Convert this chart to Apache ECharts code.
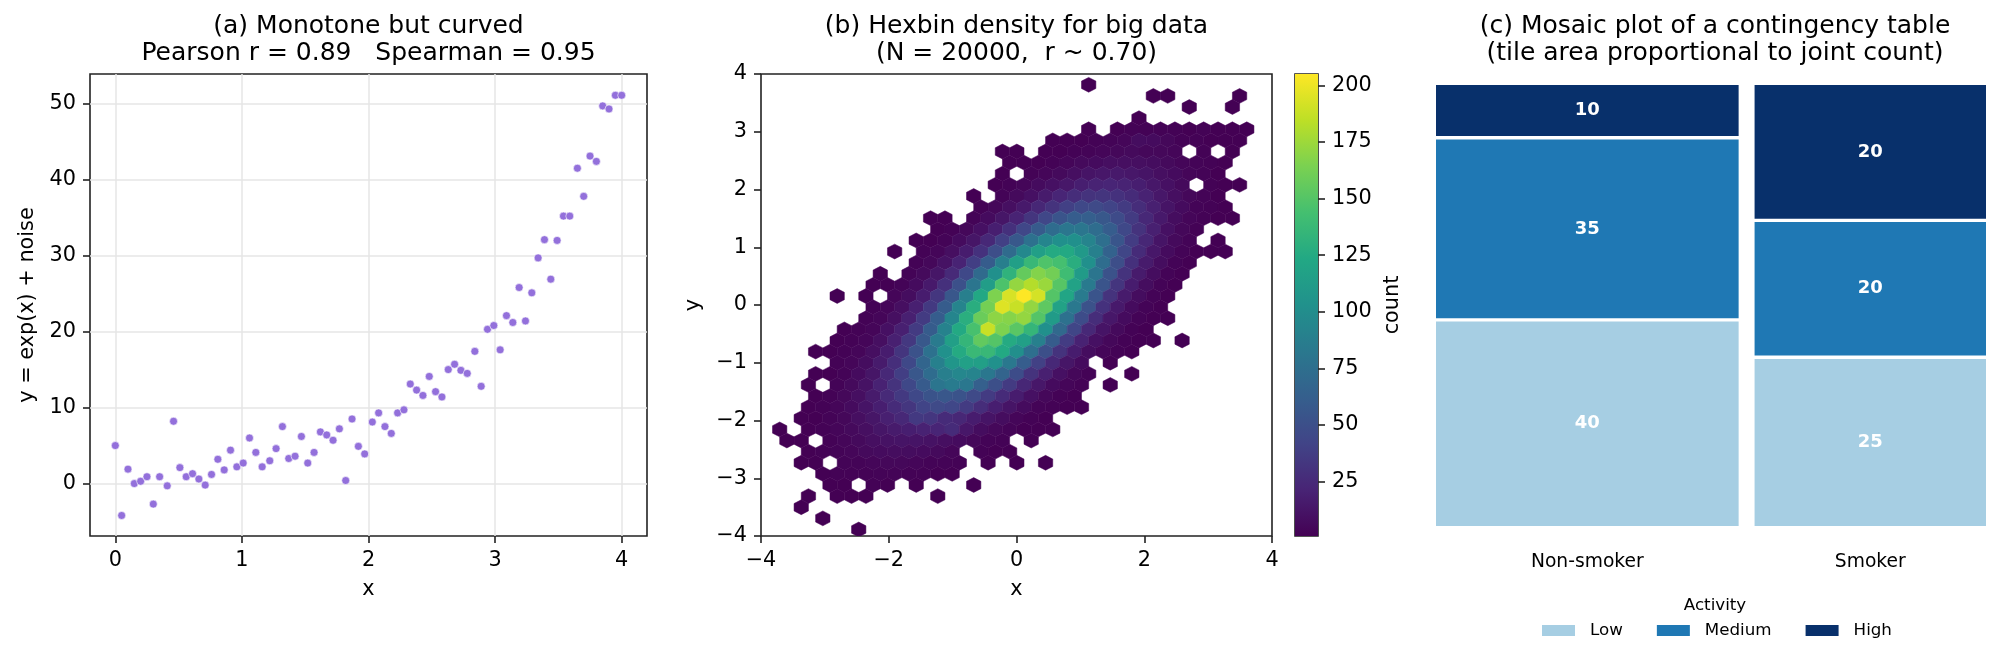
<!DOCTYPE html>
<html>
<head>
<meta charset="utf-8">
<script src="https://cdn.jsdelivr.net/npm/echarts@6/dist/echarts.min.js"></script>
<style>
  html, body { margin: 0; padding: 0; background: #fff; }
  #chart { width: 2005px; height: 663px; }
</style>
</head>
<body>
<div id="chart"></div>
<script>
// (a) monotone but curved
var curveX = [0.00,0.05,0.10,0.15,0.20,0.25,0.30,0.35,0.41,0.46,0.51,0.56,0.61,0.66,0.71,0.76,0.81,0.86,0.91,0.96,
  1.01,1.06,1.11,1.16,1.22,1.27,1.32,1.37,1.42,1.47,1.52,1.57,1.62,1.67,1.72,1.77,1.82,1.87,1.92,1.97,
  2.03,2.08,2.13,2.18,2.23,2.28,2.33,2.38,2.43,2.48,2.53,2.58,2.63,2.68,2.73,2.78,2.84,2.89,2.94,2.99,
  3.04,3.09,3.14,3.19,3.24,3.29,3.34,3.39,3.44,3.49,3.54,3.59,3.65,3.70,3.75,3.80,3.85,3.90,3.95,4.00];
var curveY = [5.0,-4.2,1.9,0.0,0.3,0.9,-2.7,0.9,-0.3,8.2, 2.1,0.9,1.3,0.6,-0.2,1.2,3.2,1.8,4.4,2.2,
  2.7,6.0,4.1,2.2,3.0,4.6,7.5,3.3,3.6,6.2, 2.7,4.1,6.8,6.4,5.7,7.2,0.4,8.5,4.9,3.9,
  8.1,9.3,7.5,6.6,9.3,9.7,13.1,12.3,11.6,14.1, 12.1,11.4,15.0,15.7,14.9,14.5,17.4,12.8,20.3,20.8,
  17.6,22.1,21.2,25.8,21.4,25.1,29.7,32.1,26.9,32.0, 35.2,35.2,41.5,37.8,43.1,42.4,49.7,49.3,51.1,51.1];
var ticksAX = [0, 1, 2, 3, 4];
var ticksAY = [0, 10, 20, 30, 40, 50];

// (b) hexbin: one entry per hex row (top to bottom), counts left to right, 0 = empty cell
var hexRowY = [3.813,3.6205,3.428,3.2355,3.043,2.8505,2.658,2.4655,2.273,2.0805,1.888,1.6955,1.503,1.3105,1.118,
  0.9255,0.733,0.5405,0.348,0.1555,-0.037,-0.2295,-0.422,-0.6145,-0.807,-0.9995,-1.192,-1.3845,-1.577,-1.7695,
  -1.962,-2.1545,-2.347,-2.5395,-2.732,-2.9245,-3.117,-3.3095,-3.502,-3.6945,-3.887];
var hexRowStartX = [1.13,2.1425,2.705,1.9175,1.13,0.5675,-0.22,-0.1075,-0.22,-0.3325,-0.67,-0.5575,-1.345,-1.2325,-1.57,
  -1.9075,-1.57,-2.1325,-2.245,-2.8075,-2.245,-2.3575,-2.695,-2.8075,-3.145,-2.8075,-3.145,-3.2575,-3.145,-3.2575,
  -3.37,-3.7075,-3.595,-3.2575,-3.37,-3.0325,-2.92,-3.2575,-3.37,-3.0325,-2.47];
var hexRowCounts = [
  [1],
  [1,1,0,0,0,0,1],
  [1,0,0,1],
  [1],
  [1,0,1,2,2,2,2,1,2,1,1,1],
  [1,1,1,2,3,4,8,7,5,2,2,1,1,1],
  [1,1,0,1,1,2,3,4,5,6,5,5,4,0,2,0,1],
  [1,1,1,2,4,6,7,9,9,9,8,6,4,3,2,1],
  [1,0,2,4,6,9,12,14,15,14,12,9,7,4,3,1],
  [1,2,4,7,10,14,18,21,22,21,18,14,10,6,0,2,1,1],
  [1,0,3,6,10,16,22,27,31,32,30,26,20,14,9,5,3,1],
  [2,5,9,15,23,31,39,45,46,42,36,27,19,12,7,3,2,1],
  [1,1,0,3,7,13,21,32,44,54,61,62,57,47,36,24,15,8,4,2,1,1],
  [1,2,5,10,18,29,44,59,73,81,81,74,61,45,31,19,10,5,2],
  [1,1,3,7,13,24,39,57,77,93,102,102,92,75,55,37,23,12,6,3,0,1],
  [1,0,2,4,9,17,30,49,72,96,115,125,124,110,89,65,43,26,14,7,3,1,1,1],
  [2,5,11,21,38,60,88,115,137,148,144,128,102,74,49,29,16,8,3,1],
  [1,0,3,6,13,25,45,71,102,132,156,167,161,141,112,80,52,31,16,8,3,1],
  [1,1,3,7,15,29,51,80,114,147,172,182,174,151,118,84,54,32,17,8,3,1],
  [1,0,1,0,4,8,17,33,56,88,123,165,193,205,192,150,121,85,54,31,16,8,3,1],
  [2,4,9,19,35,60,92,128,162,195,188,172,154,118,83,52,30,15,7,3,1],
  [2,4,9,19,36,61,93,129,158,170,168,172,150,112,77,48,27,14,7,3,1,1],
  [1,2,4,10,19,36,60,91,124,145,188,165,152,135,102,70,43,24,12,6,2,1],
  [1,2,4,9,19,34,57,85,115,135,155,150,125,115,89,60,37,20,10,5,2,1,1,0,1],
  [1,1,2,4,9,17,32,52,77,103,125,138,137,124,101,75,50,31,17,8,4,2,1],
  [2,4,8,16,28,45,67,89,107,116,115,103,83,61,40,24,13,7,0,1],
  [1,1,3,7,13,24,38,56,73,88,95,92,82,66,48,31,19,10,5,2,0,0,1],
  [1,0,3,6,11,20,31,45,59,80,85,82,63,50,36,23,14,7,4,2,0,1],
  [1,2,5,9,16,25,35,45,53,56,53,46,36,26,17,10,5,2,1],
  [1,2,4,7,12,18,26,33,42,46,44,36,27,18,12,7,3,2,1,1],
  [1,1,3,5,9,13,19,24,35,33,26,23,17,12,8,4,2,1],
  [1,0,1,2,4,6,9,13,16,18,20,22,26,14,8,5,3,1,1,1],
  [1,1,0,2,4,6,9,11,12,12,11,9,7,5,3,2,0,1],
  [1,2,3,4,6,7,8,8,7,6,4,0,2,1,1],
  [1,1,0,3,3,4,5,5,4,3,3,2,0,1,0,1,0,1],
  [1,2,2,2,3,3,2,2,1,1],
  [1,1,0,2,1,0,1,0,0,0,1],
  [1,0,1,1,1,0,0,0,0,1],
  [1],
  [1],
  [1]
];
var HEX_W = 0.225;   // hex spacing along a row
var HEX_H = 0.385;   // matplotlib sy
var cbarTicks = [25, 50, 75, 100, 125, 150, 175, 200];
var COUNT_MIN = 1, COUNT_MAX = 205;

// (c) mosaic
var smokingGroups = ['Non-smoker', 'Smoker'];
var activityLevels = ['Low', 'Medium', 'High'];
var countsLow = [40, 25];
var countsMedium = [35, 20];
var countsHigh = [10, 20];

var FONT = 'DejaVu Sans';
var VIRIDIS = ['#440154','#482475','#414487','#355f8d','#2a788e','#21918c','#22a884','#44bf70','#7ad151','#bddf26','#fde725'];
var ACT_COLORS = ['#a6cee3', '#1f78b4', '#08306b'];

var hexData = [];
hexRowCounts.forEach(function (row, k) {
  row.forEach(function (c, j) {
    if (c > 0) hexData.push([hexRowStartX[k] + j * HEX_W, hexRowY[k], c]);
  });
});

// mosaic tiles
var levelCounts = [countsLow, countsMedium, countsHigh];
var GAP_X = 0.029, GAP_Y = 0.0075;
var groupTotals = smokingGroups.map(function (g, i) {
  return countsLow[i] + countsMedium[i] + countsHigh[i];
});
var grandTotal = groupTotals[0] + groupTotals[1];
var groupStart = [], groupEnd = [];
var xCursor = 0;
groupTotals.forEach(function (t, i) {
  var w = (1 - GAP_X * (groupTotals.length - 1)) * t / grandTotal;
  groupStart.push(xCursor);
  groupEnd.push(xCursor + w);
  xCursor += w + GAP_X;
});
var groupCenters = groupStart.map(function (s, i) { return (s + groupEnd[i]) / 2; });
var tileData = activityLevels.map(function () { return []; });
smokingGroups.forEach(function (g, i) {
  var yCursor = 0;
  levelCounts.forEach(function (arr, l) {
    var h = (1 - GAP_Y * (activityLevels.length - 1)) * arr[i] / groupTotals[i];
    tileData[l].push([groupStart[i], groupEnd[i], yCursor, yCursor + h, arr[i]]);
    yCursor += h + GAP_Y;
  });
});

function minusFmt(v) {
  return v < 0 ? '\u2212' + (-v) : String(v);
}

var tickStyle = { show: true, inside: false, length: 7, lineStyle: { color: '#222', width: 1.6 } };
var labelStyle = { fontFamily: FONT, fontSize: 20.8, color: '#000', margin: 14 };
var nameStyle = { fontFamily: FONT, fontSize: 20.8, color: '#000' };
var hiddenLine = { show: false, onZero: false };

var HEX_OFFSETS = [[0.5, -0.5], [0.5, 0.5], [0, 1], [-0.5, 0.5], [-0.5, -0.5], [0, -1]];
function renderHex(params, api) {
  var cx = api.value(0), cy = api.value(1);
  var pts = HEX_OFFSETS.map(function (o) {
    return api.coord([cx + o[0] * HEX_W, cy + o[1] * HEX_H / 3]);
  });
  var c = api.visual('color');
  return { type: 'polygon', shape: { points: pts }, style: { fill: c, stroke: c, lineWidth: 0.5 } };
}

function renderColorbar(params, api) {
  var p0 = api.coord([0, COUNT_MAX]);
  var p1 = api.coord([1, COUNT_MIN]);
  var stops = VIRIDIS.map(function (c, i) { return { offset: i / (VIRIDIS.length - 1), color: c }; });
  return {
    type: 'rect',
    shape: { x: p0[0], y: p0[1], width: p1[0] - p0[0], height: p1[1] - p0[1] },
    style: { fill: new echarts.graphic.LinearGradient(0, 1, 0, 0, stops) }
  };
}

function renderTile(params, api) {
  var p0 = api.coord([api.value(0), api.value(3)]);
  var p1 = api.coord([api.value(1), api.value(2)]);
  return {
    type: 'group',
    children: [
      { type: 'rect', shape: { x: p0[0], y: p0[1], width: p1[0] - p0[0], height: p1[1] - p0[1] },
        style: { fill: api.visual('color') } },
      { type: 'text', x: (p0[0] + p1[0]) / 2, y: (p0[1] + p1[1]) / 2,
        style: { text: String(api.value(4)), fill: '#fff', font: 'bold 18px "DejaVu Sans"',
          align: 'center', verticalAlign: 'middle', textAlign: 'center', textVerticalAlign: 'middle' } }
    ]
  };
}

function titleLine(text, x, y, size) {
  return {
    type: 'text', x: x, y: y,
    style: { text: text, fill: '#000', font: 'normal ' + size + 'px "DejaVu Sans"',
      align: 'center', verticalAlign: 'middle', textAlign: 'center', textVerticalAlign: 'middle' }
  };
}

var chart = echarts.init(document.getElementById('chart'));
var option = {
  backgroundColor: '#fff',
  animation: false,
  textStyle: { fontFamily: FONT },
  graphic: [
    titleLine('(a) Monotone but curved', 368.5, 26.7, 25),
    titleLine('Pearson r = 0.89   Spearman = 0.95', 368.5, 53.3, 25),
    titleLine('(b) Hexbin density for big data', 1016.5, 26.7, 25),
    titleLine('(N = 20000,  r ~ 0.70)', 1016.5, 53.3, 25),
    titleLine('(c) Mosaic plot of a contingency table', 1715, 26.7, 25),
    titleLine('(tile area proportional to joint count)', 1715, 53.3, 25),
    titleLine('Activity', 1715, 606, 16.7)
  ],
  grid: [
    { left: 90, top: 74, width: 557, height: 462, show: true, borderColor: '#222', borderWidth: 1.6, backgroundColor: 'transparent' },
    { left: 761, top: 74, width: 511, height: 462, show: true, borderColor: '#222', borderWidth: 1.6, backgroundColor: 'transparent' },
    { left: 1295, top: 74, width: 23, height: 462, show: true, borderColor: '#222', borderWidth: 1.6, backgroundColor: 'transparent' },
    { left: 1436, top: 85, width: 550, height: 441 }
  ],
  xAxis: [
    { gridIndex: 0, type: 'value', min: -0.2, max: 4.2,
      axisLine: hiddenLine, axisTick: Object.assign({ customValues: ticksAX }, tickStyle),
      axisLabel: Object.assign({ customValues: ticksAX }, labelStyle),
      splitLine: { show: true, lineStyle: { color: '#e6e6e6', width: 1.5 } },
      name: 'x', nameLocation: 'middle', nameGap: 43, nameTextStyle: nameStyle },
    { gridIndex: 1, type: 'value', min: -4, max: 4, interval: 2,
      axisLine: hiddenLine, axisTick: tickStyle,
      axisLabel: Object.assign({ formatter: minusFmt }, labelStyle),
      splitLine: { show: false },
      name: 'x', nameLocation: 'middle', nameGap: 43, nameTextStyle: nameStyle },
    { gridIndex: 2, type: 'value', min: 0, max: 1, show: false },
    { gridIndex: 3, type: 'value', min: 0, max: 1,
      axisLine: hiddenLine, axisTick: { show: false }, splitLine: { show: false },
      axisLabel: { customValues: groupCenters, fontFamily: FONT, fontSize: 18.7, color: '#000', margin: 27,
        formatter: function (v) {
          var best = 0;
          groupCenters.forEach(function (c, i) { if (Math.abs(c - v) < Math.abs(groupCenters[best] - v)) best = i; });
          return smokingGroups[best];
        } } }
  ],
  yAxis: [
    { gridIndex: 0, type: 'value', min: -6.9, max: 53.9,
      axisLine: hiddenLine, axisTick: Object.assign({ customValues: ticksAY }, tickStyle),
      axisLabel: Object.assign({ customValues: ticksAY }, labelStyle),
      splitLine: { show: true, lineStyle: { color: '#e6e6e6', width: 1.5 } },
      name: 'y = exp(x) + noise', nameLocation: 'middle', nameRotate: 90, nameGap: 52, nameTextStyle: nameStyle },
    { gridIndex: 1, type: 'value', min: -4, max: 4, interval: 1,
      axisLine: hiddenLine, axisTick: tickStyle,
      axisLabel: Object.assign({ formatter: minusFmt }, labelStyle),
      splitLine: { show: false },
      name: 'y', nameLocation: 'middle', nameRotate: 90, nameGap: 57, nameTextStyle: nameStyle },
    { gridIndex: 2, type: 'value', min: COUNT_MIN, max: COUNT_MAX, position: 'right',
      axisLine: hiddenLine, axisTick: Object.assign({ customValues: cbarTicks }, tickStyle),
      axisLabel: Object.assign({ customValues: cbarTicks }, labelStyle),
      splitLine: { show: false },
      name: 'count', nameLocation: 'middle', nameRotate: 90, nameGap: 64, nameTextStyle: nameStyle },
    { gridIndex: 3, type: 'value', min: 0, max: 1, show: false }
  ],
  visualMap: {
    type: 'continuous', show: false, seriesIndex: 1, dimension: 2,
    min: COUNT_MIN, max: COUNT_MAX, inRange: { color: VIRIDIS }
  },
  legend: {
    data: activityLevels, left: 1542, top: 622, padding: 0,
    itemWidth: 33, itemHeight: 11, itemGap: 34, icon: 'rect',
    textStyle: { fontFamily: FONT, fontSize: 16.7, color: '#000', padding: [0, 0, 0, 10] }
  },
  series: [
    { type: 'scatter', xAxisIndex: 0, yAxisIndex: 0, symbolSize: 8,
      data: curveX.map(function (x, i) { return [x, curveY[i]]; }),
      itemStyle: { color: '#9370DB', borderColor: '#fff', borderWidth: 0.6, opacity: 1 },
      emphasis: { disabled: true } },
    { type: 'custom', xAxisIndex: 1, yAxisIndex: 1, renderItem: renderHex, data: hexData, clip: true },
    { type: 'custom', xAxisIndex: 2, yAxisIndex: 2, renderItem: renderColorbar, data: [[0, COUNT_MIN]] }
  ].concat(activityLevels.map(function (lvl, l) {
    return { type: 'custom', name: lvl, xAxisIndex: 3, yAxisIndex: 3, renderItem: renderTile,
      data: tileData[l], itemStyle: { color: ACT_COLORS[l] } };
  }))
};
chart.setOption(option);
</script>
</body>
</html>
